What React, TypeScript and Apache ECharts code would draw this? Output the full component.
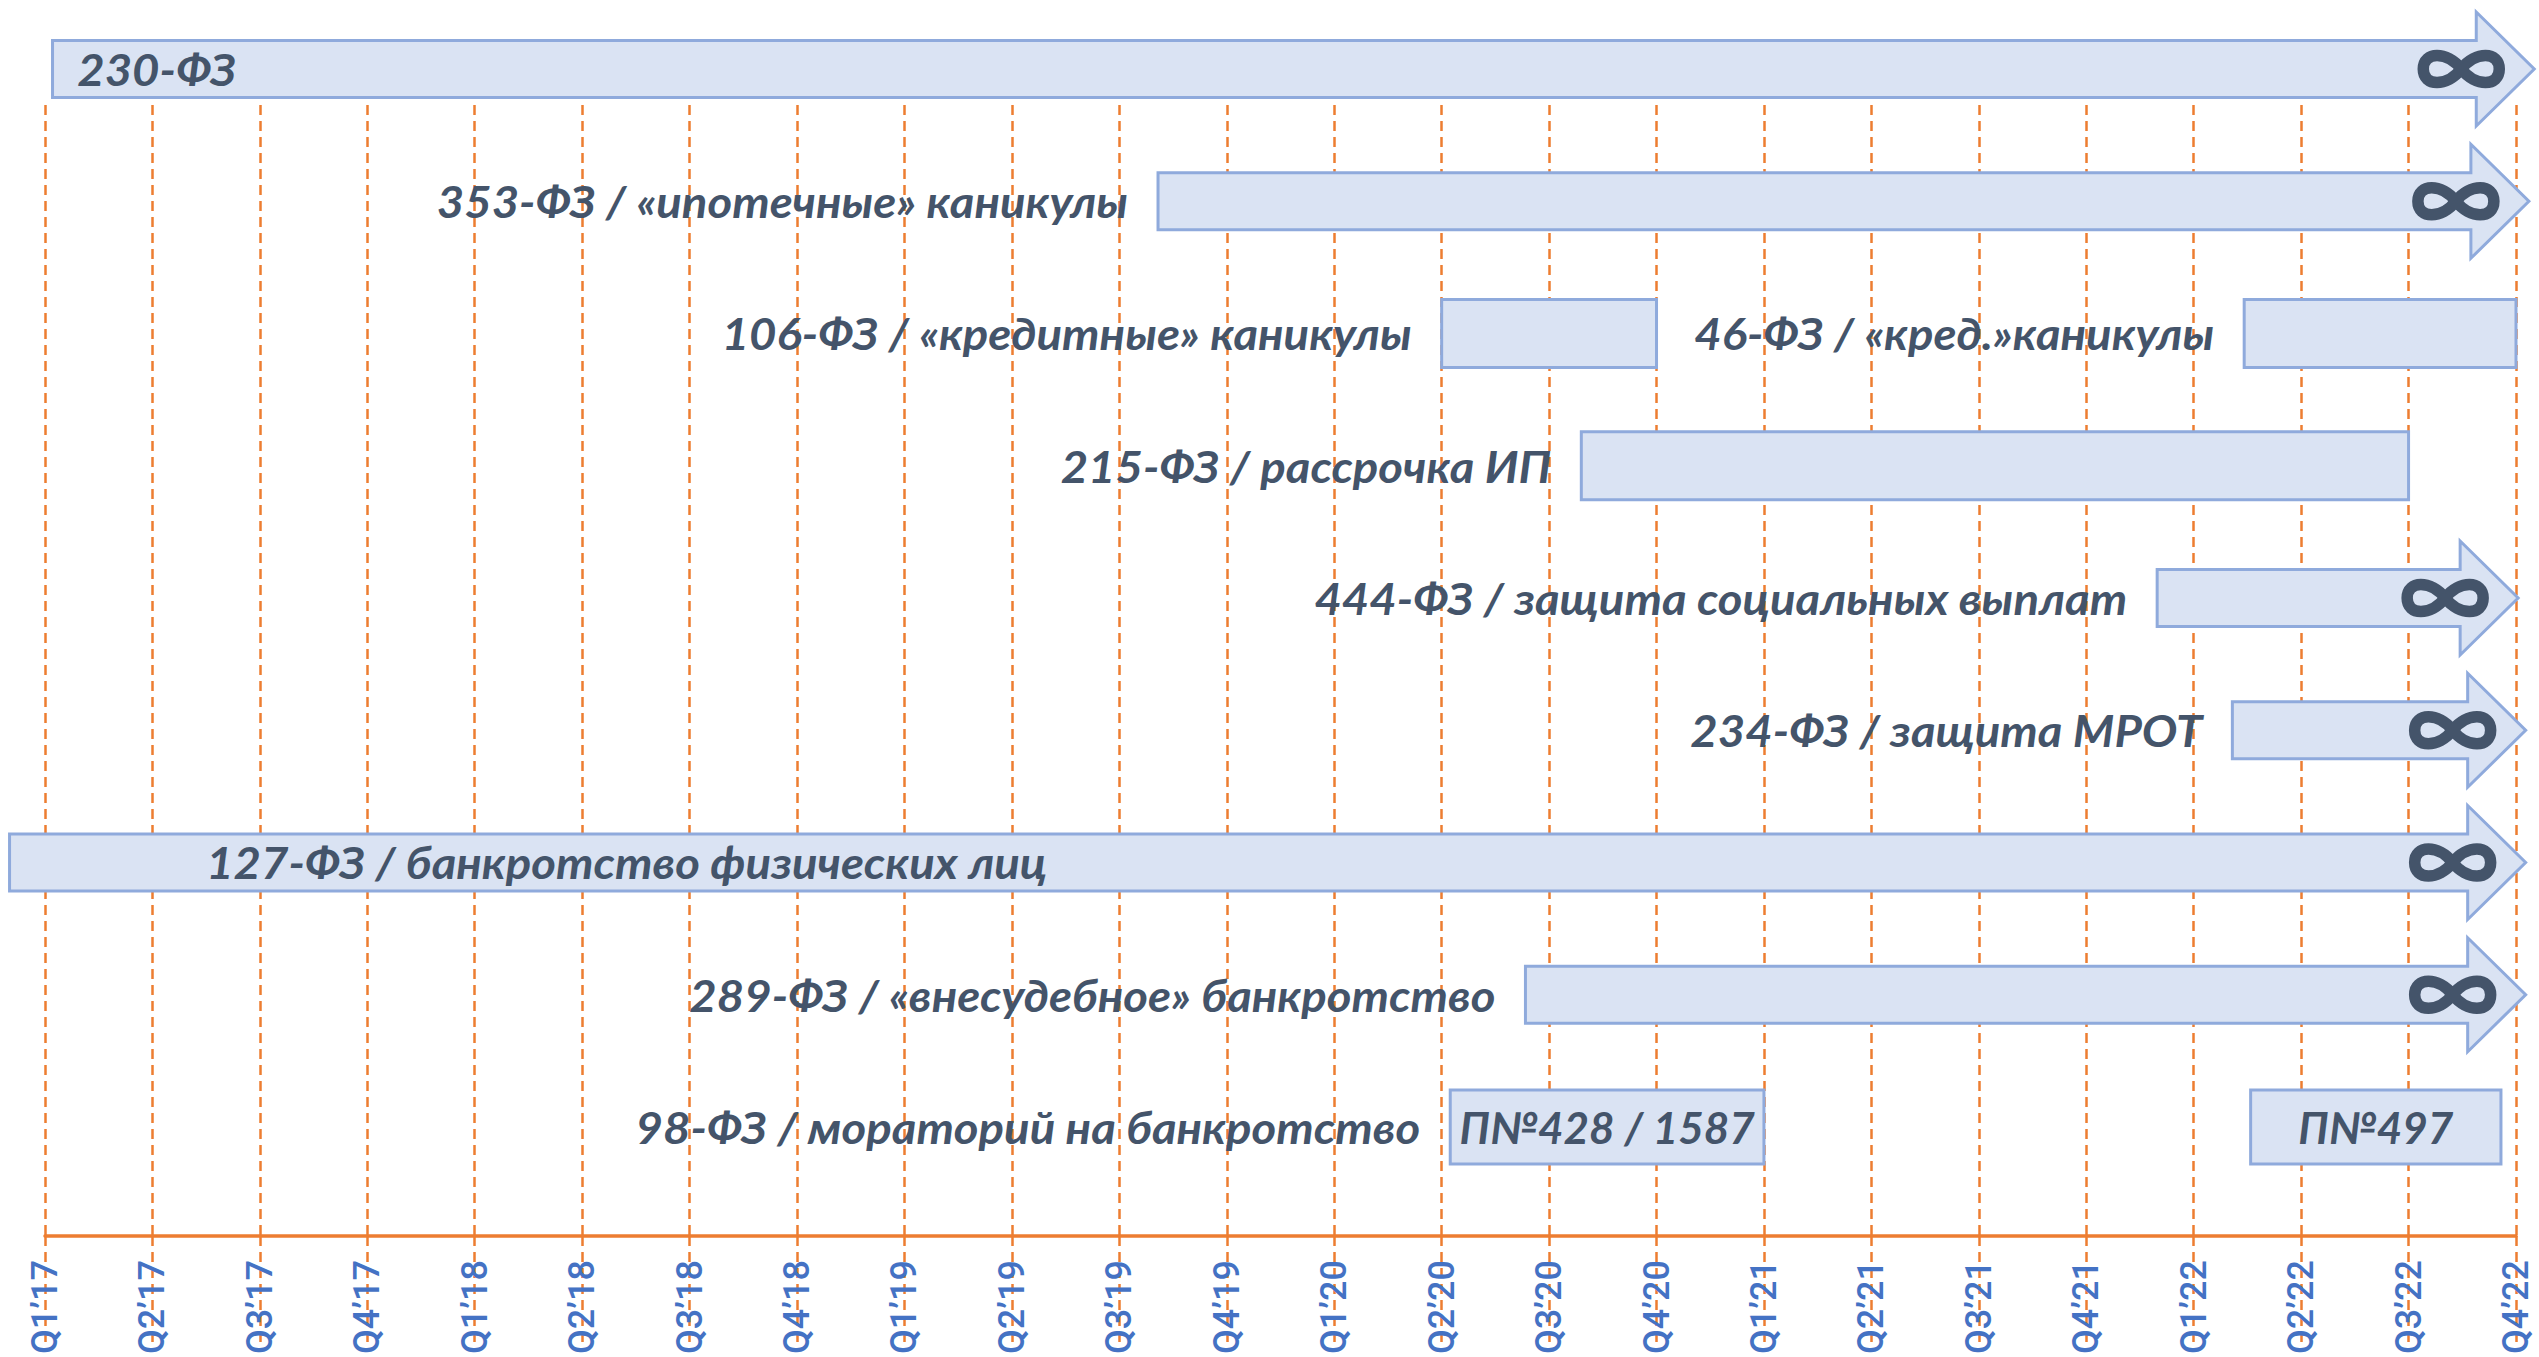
import React, { useEffect, useRef } from "react";
import * as echarts from "echarts";

// Quarter tick labels (x axis positions 0..23)
const quarters = [
  "Q1’17", "Q2’17", "Q3’17", "Q4’17",
  "Q1’18", "Q2’18", "Q3’18", "Q4’18",
  "Q1’19", "Q2’19", "Q3’19", "Q4’19",
  "Q1’20", "Q2’20", "Q3’20", "Q4’20",
  "Q1’21", "Q2’21", "Q3’21", "Q4’21",
  "Q1’22", "Q2’22", "Q3’22", "Q4’22",
];

// One entry per bar
const barLabels = [
  "230-ФЗ",
  "353-ФЗ / «ипотечные» каникулы",
  "106-ФЗ / «кредитные» каникулы",
  "46-ФЗ / «кред.»каникулы",
  "215-ФЗ / рассрочка ИП",
  "444-ФЗ / защита социальных выплат",
  "234-ФЗ / защита МРОТ",
  "127-ФЗ / банкротство физических лиц",
  "289-ФЗ / «внесудебное» банкротство",
  "98-ФЗ / мораторий на банкротство",
  "",
];
const boxTexts = ["", "", "", "", "", "", "", "", "", "П№428 / 1587", "П№497"];
const lanes = [0, 1, 2, 2, 3, 4, 5, 6, 7, 8, 8];
const starts = [0.07, 10.36, 13, 20.47, 14.3, 19.66, 20.36, -0.33, 13.78, 13.08, 20.53];
const ends = [23.17, 23.12, 15, 23, 22, 23.02, 23.09, 23.09, 23.09, 16, 22.86];
const openEnded = [true, true, false, false, false, true, true, true, true, false, false];
// quarter at which an inside label starts (null = label left of the bar)
const labelAt: (number | null)[] = [0.3, null, null, null, null, null, null, 1.5, null, null, null];

const TEXT = "#44546A";
const FILL = "#DAE3F3";
const STROKE = "#8FAADC";
const ORANGE = "#ED7D31";
const LABEL_FONT = "Lato";

const INFINITY_D =
  "M0,0 C14,-18 38,-18 38,0 C38,18 14,18 0,0 C-14,-18 -38,-18 -38,0 C-38,18 -14,18 0,0 Z";
let registered = false;
function registerShapes() {
  if (registered) return;
  echarts.graphic.registerShape("infinity", echarts.graphic.extendPath(INFINITY_D, {}) as any);
  registered = true;
}

export default function App() {
  const ref = useRef<HTMLDivElement>(null);
  useEffect(() => {
    document.body.style.margin = "0";
    if (!ref.current) return;
    registerShapes();
    const chart = echarts.init(ref.current, null, { renderer: "svg" });
    const data = starts.map((s, i) => [s, ends[i], lanes[i]]);
    const option: any = {
      animation: false,
      backgroundColor: "#ffffff",
      grid: { left: 45, right: 23, top: 105, bottom: 121, outerBoundsMode: "none" },
      xAxis: {
        type: "value",
        min: 0,
        max: 23,
        interval: 1,
        position: "bottom",
        axisLine: { show: true, lineStyle: { color: ORANGE, width: 3.5 } },
        axisTick: {
          show: true,
          inside: false,
          length: 112,
          lineStyle: { color: ORANGE, width: 2.5, type: [10, 6] },
        },
        axisLabel: {
          rotate: 90,
          margin: 24,
          fontSize: 36,
          fontWeight: 500,
          color: "#4472C4",
          fontFamily: "Roboto",
          formatter: (v: number) => quarters[Math.round(v)] ?? "",
        },
        splitLine: { show: true, lineStyle: { color: ORANGE, width: 2.5, type: [10, 6] } },
      },
      yAxis: { type: "value", inverse: true, min: 0.272, max: 8.824, show: false },
      series: [
        {
          type: "custom",
          clip: false,
          encode: { x: [0, 1], y: 2 },
          data,
          renderItem: (params: any, api: any) => {
            const i = params.dataIndex;
            const s = api.value(0);
            const e = api.value(1);
            const lane = api.value(2);
            const p0 = api.coord([s, lane]);
            const p1 = api.coord([e, lane]);
            const x0 = p0[0];
            const x1 = p1[0];
            const yc = p0[1];
            const children: any[] = [];
            const shapeStyle = { fill: FILL, stroke: STROKE, lineWidth: 3, lineJoin: "miter" };
            if (openEnded[i]) {
              const h = 57;
              const H = 114;
              const head = 58;
              const xb = x1 - head;
              children.push({
                type: "polygon",
                shape: {
                  points: [
                    [x0, yc - h / 2],
                    [xb, yc - h / 2],
                    [xb, yc - H / 2],
                    [x1, yc],
                    [xb, yc + H / 2],
                    [xb, yc + h / 2],
                    [x0, yc + h / 2],
                  ],
                },
                style: shapeStyle,
              });
              children.push({
                type: "infinity",
                x: x1 - 73,
                y: yc,
                style: { fill: "none", stroke: TEXT, lineWidth: 11.5 },
              });
            } else {
              const bh = boxTexts[i] ? 74 : 68;
              children.push({
                type: "rect",
                shape: { x: x0, y: yc - bh / 2, width: x1 - x0, height: bh },
                style: shapeStyle,
              });
              if (boxTexts[i]) {
                children.push({
                  type: "text",
                  x: (x0 + x1) / 2,
                  y: yc,
                  style: {
                    text: boxTexts[i],
                    x: 0,
                    y: 0,
                    align: "center",
                    verticalAlign: "middle",
                    fontSize: 44,
                    fontWeight: "bold",
                    fontStyle: "italic",
                    fontFamily: LABEL_FONT,
                    fill: TEXT,
                  },
                });
              }
            }
            if (barLabels[i]) {
              const at = labelAt[i];
              const inside = at !== null && at !== undefined;
              const lx = inside ? api.coord([at, lane])[0] : x0 - 30;
              children.push({
                type: "text",
                x: lx,
                y: yc,
                scaleX: 1.075,
                style: {
                  text: barLabels[i],
                  x: 0,
                  y: 0,
                  align: inside ? "left" : "right",
                  verticalAlign: "middle",
                  fontSize: 44,
                  fontWeight: "bold",
                  fontStyle: "italic",
                  fontFamily: LABEL_FONT,
                  fill: TEXT,
                },
              });
            }
            return { type: "group", children };
          },
        },
      ],
    };
    chart.setOption(option);
    return () => chart.dispose();
  }, []);
  return <div ref={ref} style={{ width: 2539, height: 1357 }} />;
}
